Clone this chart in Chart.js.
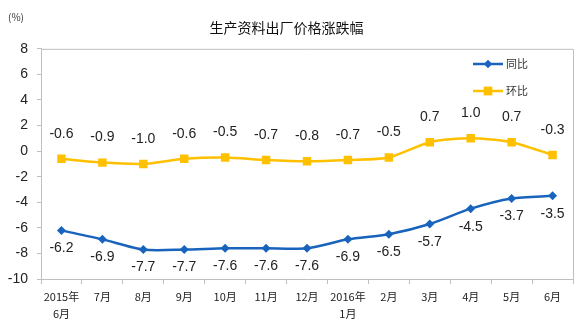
<!DOCTYPE html>
<html>
<head>
<meta charset="utf-8">
<script src="https://cdn.jsdelivr.net/npm/chart.js@4/dist/chart.umd.min.js"></script>
<style>
  html, body { margin: 0; padding: 0; background: #fff; }
  #wrap { width: 580px; height: 327px; position: relative; }
</style>
</head>
<body>
<div id="wrap"><canvas id="chart"></canvas></div>
<script>
// 月份标签
const meses = [['2015年', '6月'], '7月', '8月', '9月', '10月', '11月', '12月',
               ['2016年', '1月'], '2月', '3月', '4月', '5月', '6月'];
// 同比 / 环比 (%)
const tongbi = [-6.2, -6.9, -7.7, -7.7, -7.6, -7.6, -7.6, -6.9, -6.5, -5.7, -4.5, -3.7, -3.5];
const huanbi = [-0.6, -0.9, -1.0, -0.6, -0.5, -0.7, -0.8, -0.7, -0.5, 0.7, 1.0, 0.7, -0.3];
const yTicks = [8, 6, 4, 2, 0, -2, -4, -6, -8, -10];

const AZUL = '#1864bd';
const AMARILLO = '#ffc000';
const GRIS = '#bfbfbf';

// Borde superior y derecho del área del gráfico
const bordePlugin = {
    id: 'borde',
    beforeDatasetsDraw(chart) {
        const { ctx, chartArea: a } = chart;
        ctx.save();
        ctx.strokeStyle = GRIS;
        ctx.lineWidth = 1;
        ctx.beginPath();
        ctx.moveTo(a.left, a.top + 0.5);
        ctx.lineTo(a.right + 0.5, a.top + 0.5);
        ctx.lineTo(a.right + 0.5, a.bottom);
        ctx.stroke();
        ctx.restore();
    }
};

// Etiquetas de datos, unidad y leyenda
const etiquetasPlugin = {
    id: 'etiquetas',
    afterDatasetsDraw(chart) {
        const { ctx } = chart;
        ctx.save();
        ctx.font = '14px "Liberation Sans", Arial, sans-serif';
        ctx.fillStyle = '#222';
        ctx.textAlign = 'center';
        ctx.textBaseline = 'middle';
        chart.data.datasets.forEach((ds, i) => {
            const meta = chart.getDatasetMeta(i);
            meta.data.forEach((p, j) => {
                const dy = i === 0 ? 18 : -25;
                ctx.fillText(ds.data[j].toFixed(1), p.x, p.y + dy);
            });
        });

        // unidad
        ctx.font = '10px "Noto Sans CJK SC", sans-serif';
        ctx.fillStyle = '#333';
        ctx.textAlign = 'left';
        ctx.fillText('(%)', 8, 17);

        // leyenda
        const items = [
            { label: '同比', color: AZUL, style: 'rectRot', r: 4, y: 64 },
            { label: '环比', color: AMARILLO, style: 'rect', r: 6, y: 91 }
        ];
        items.forEach(it => {
            ctx.strokeStyle = it.color;
            ctx.lineWidth = 2.5;
            ctx.beginPath();
            ctx.moveTo(473, it.y);
            ctx.lineTo(503, it.y);
            ctx.stroke();
            ctx.fillStyle = it.color;
            Chart.helpers.drawPoint(ctx, { pointStyle: it.style, radius: it.r, borderWidth: 0 }, 488, it.y);
            ctx.fill();
            ctx.fillStyle = '#333';
            ctx.font = '11px "Noto Sans CJK SC", sans-serif';
            ctx.fillText(it.label, 506, it.y);
        });
        ctx.restore();
    }
};

new Chart(document.getElementById('chart'), {
    type: 'line',
    data: {
        labels: meses,
        datasets: [
            {
                label: '同比',
                data: tongbi,
                borderColor: AZUL,
                backgroundColor: AZUL,
                borderWidth: 2.5,
                tension: 0.25,
                pointStyle: 'rectRot',
                pointRadius: 4.5,
                pointBorderWidth: 0
            },
            {
                label: '环比',
                data: huanbi,
                borderColor: AMARILLO,
                backgroundColor: AMARILLO,
                borderWidth: 2.5,
                tension: 0.25,
                pointStyle: 'rect',
                pointRadius: 6,
                pointBorderWidth: 0
            }
        ]
    },
    options: {
        responsive: true,
        maintainAspectRatio: false,
        animation: false,
        layout: { padding: { left: 0, right: 7, top: 0, bottom: 0 } },
        plugins: {
            legend: { display: false },
            tooltip: { enabled: false },
            title: {
                display: true,
                text: '生产资料出厂价格涨跌幅',
                color: '#111',
                font: { family: '"Noto Sans CJK SC", sans-serif', size: 14, weight: 'normal' },
                padding: { top: 19, bottom: 13 }
            }
        },
        scales: {
            x: {
                offset: true,
                grid: {
                    offset: true,
                    drawOnChartArea: false,
                    tickLength: 5,
                    color: GRIS
                },
                border: { color: GRIS },
                ticks: {
                    color: '#222',
                    maxRotation: 0,
                    autoSkip: false,
                    padding: 5,
                    font: { family: '"Noto Sans CJK SC", sans-serif', size: 11, lineHeight: 1.5 }
                }
            },
            y: {
                min: -10,
                max: 8,
                afterFit(scale) { scale.width = 41; },
                afterBuildTicks(scale) { scale.ticks = yTicks.map(v => ({ value: v })); },
                grid: {
                    drawOnChartArea: false,
                    tickLength: 4,
                    color: GRIS
                },
                border: { color: GRIS },
                ticks: {
                    color: '#222',
                    padding: 9,
                    font: { family: '"Liberation Sans", Arial, sans-serif', size: 14 }
                }
            }
        }
    },
    plugins: [bordePlugin, etiquetasPlugin]
});
</script>
</body>
</html>
